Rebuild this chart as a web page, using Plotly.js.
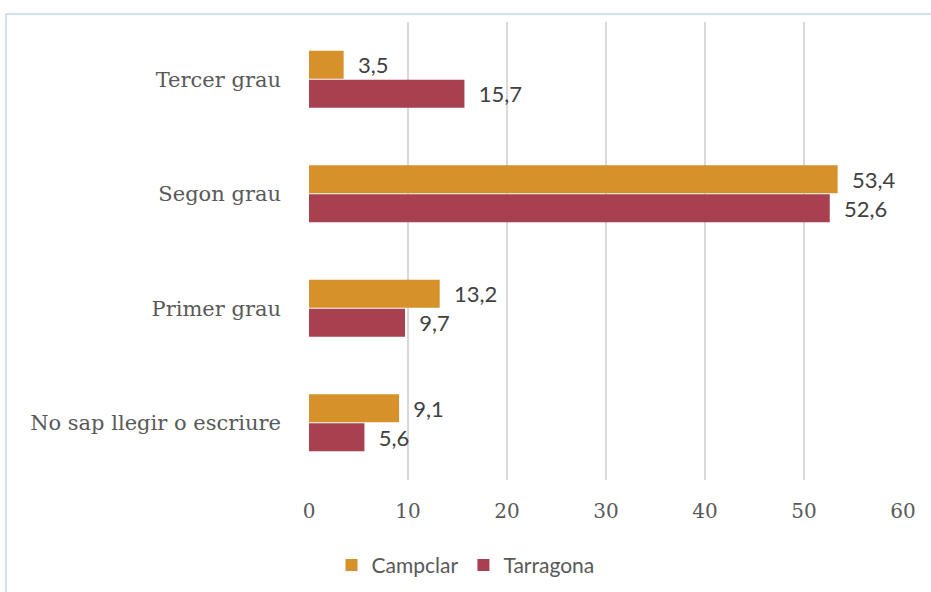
<!DOCTYPE html>
<html>
<head>
<meta charset="utf-8">
<script src="https://cdn.plot.ly/plotly-3.0.1.min.js"></script>
<style>html,body{margin:0;padding:0;background:#fff;}#chart{width:931px;height:592px;}</style>
</head>
<body>
<div id="chart"></div>
<script>
const categories = ["No sap llegir o escriure", "Primer grau", "Segon grau", "Tercer grau"];
const campclar = [9.1, 13.2, 53.4, 3.5];
const tarragona = [5.6, 9.7, 52.6, 15.7];
const xTicks = [0, 10, 20, 30, 40, 50, 60];

const labelFont = {family: "Lato, 'Open Sans', sans-serif", size: 22, color: "#404040"};

const traces = [
  {
    type: "bar", orientation: "h", name: "Tarragona",
    y: categories, x: tarragona,
    marker: {color: "#A9404F"},
    texttemplate: "\u00a0\u00a0%{x:.1f}", textposition: "outside", cliponaxis: false,
    textfont: labelFont, hoverinfo: "none"
  },
  {
    type: "bar", orientation: "h", name: "Campclar",
    y: categories, x: campclar,
    marker: {color: "#D6912A"},
    texttemplate: "\u00a0\u00a0%{x:.1f}", textposition: "outside", cliponaxis: false,
    textfont: labelFont, hoverinfo: "none"
  }
];

const layout = {
  width: 931, height: 592,
  margin: {l: 309, r: 28, t: 22, b: 112},
  separators: ",.",
  barmode: "group",
  bargap: 0.49,
  bargroupgap: 0.04,
  paper_bgcolor: "#ffffff",
  plot_bgcolor: "#ffffff",
  showlegend: true,
  legend: {
    orientation: "h", traceorder: "reversed",
    x: 0.5, xref: "container", xanchor: "center",
    y: 0.045, yref: "container", yanchor: "middle",
    font: {family: "Lato, 'Open Sans', sans-serif", size: 21, color: "#595959"},
    itemwidth: 30
  },
  xaxis: {
    range: [0, 60], tickvals: xTicks, ticktext: xTicks.map(String),
    showgrid: true, gridcolor: "#d9d9d9", gridwidth: 2,
    zeroline: false, showline: false,
    ticks: "", ticklabelstandoff: 17,
    tickfont: {family: "'DejaVu Serif', 'Liberation Serif', serif", size: 20, color: "#595959"}
  },
  yaxis: {
    type: "category", categoryorder: "array", categoryarray: categories,
    showgrid: false, zeroline: false, showline: false,
    ticks: "", ticklabelstandoff: 27,
    tickfont: {family: "'DejaVu Serif', 'Liberation Serif', serif", size: 21, color: "#595959"}
  },
  shapes: [{
    type: "rect", xref: "paper", yref: "paper",
    x0: -0.51, x1: 1.3, y0: -0.4, y1: 1.0175,
    line: {color: "#c5d5ee", width: 1.5}, fillcolor: "rgba(0,0,0,0)", layer: "below"
  }]
};

Plotly.newPlot("chart", traces, layout, {displayModeBar: false, staticPlot: true});
</script>
</body>
</html>
